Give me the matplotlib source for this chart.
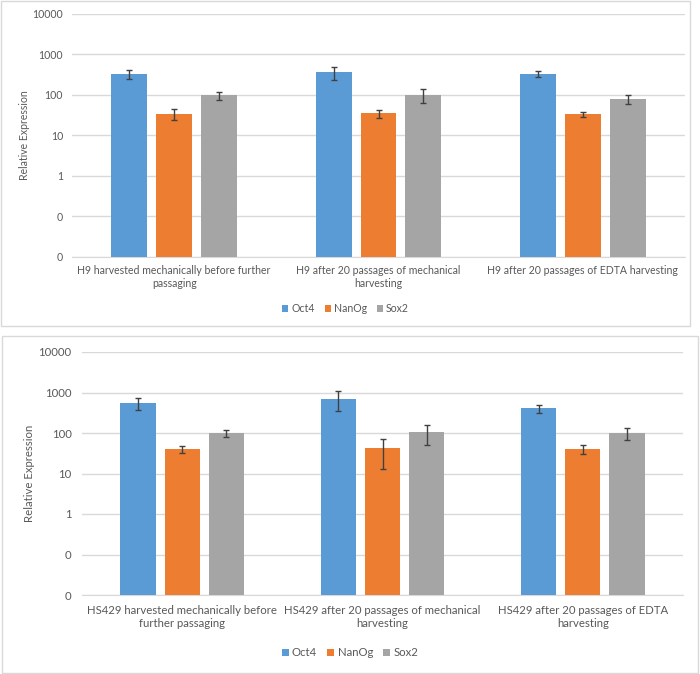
import textwrap
import numpy as np
import matplotlib
matplotlib.use("Agg")
import matplotlib.pyplot as plt
import matplotlib.patches as patches
from matplotlib.ticker import FuncFormatter, FixedLocator

# Data
genes = ["Oct4", "NanOg", "Sox2"]
colors = ["#5B9BD5", "#ED7D31", "#A5A5A5"]

h9_groups = ["H9 harvested mechanically before further passaging",
             "H9 after 20 passages of mechanical harvesting",
             "H9 after 20 passages of EDTA harvesting"]
h9_oct4 = [330, 370, 330]
h9_nanog = [34, 35, 33]
h9_sox2 = [98, 100, 78]
h9_oct4_err = [80, 130, 50]
h9_nanog_err = [10, 8, 5]
h9_sox2_err = [22, 37, 20]

hs_groups = ["HS429 harvested mechanically before further passaging",
             "HS429 after 20 passages of mechanical harvesting",
             "HS429 after 20 passages of EDTA harvesting"]
hs_oct4 = [550, 710, 410]
hs_nanog = [41, 43, 40]
hs_sox2 = [100, 105, 100]
hs_oct4_err = [180, 370, 90]
hs_nanog_err = [8, 30, 10]
hs_sox2_err = [22, 53, 33]

y_ticks = [0.01, 0.1, 1, 10, 100, 1000, 10000]

plt.rcParams['font.family'] = ['Lato', 'DejaVu Sans']
text_grey = "#595959"
grid_grey = "#D9D9D9"

W, H = 700, 674
fig = plt.figure(figsize=(W / 100, H / 100), dpi=100)


def px_box(x0, y0, x1, y1):
    # pixel box (top-left origin) -> figure fraction rect
    return [x0 / W, 1 - y1 / H, (x1 - x0) / W, (y1 - y0) / H]


def draw_panel(rect, border, groups, series, errs, fs, legend_y, ylabel_x, ypad, xpad):
    # panel frame
    bx0, by0, bx1, by1 = border
    fig.patches.append(patches.Rectangle((bx0 / W, 1 - by1 / H), (bx1 - bx0) / W, (by1 - by0) / H,
                                         transform=fig.transFigure, fill=False,
                                         edgecolor="#D9D9D9", linewidth=1))
    ax = fig.add_axes(px_box(*rect))
    ax.set_yscale('log')
    x = np.arange(len(groups))
    step = 0.22
    for i, (vals, err) in enumerate(zip(series, errs)):
        ax.bar(x + (i - 1) * step, vals, width=0.176, color=colors[i], label=genes[i],
               yerr=err, error_kw=dict(ecolor="#404040", elinewidth=1, capsize=2.5, capthick=1),
               zorder=3)
    ax.set_ylim(y_ticks[0], y_ticks[-1])
    ax.set_xlim(-0.5, len(groups) - 0.5)
    ax.yaxis.set_major_locator(FixedLocator(y_ticks))
    ax.yaxis.set_minor_locator(FixedLocator([]))
    ax.yaxis.set_major_formatter(FuncFormatter(lambda v, p: f"{v:.0f}"))
    ax.grid(axis='y', color=grid_grey, linewidth=1, zorder=0)
    ax.set_axisbelow(True)
    for s in ["top", "right", "left"]:
        ax.spines[s].set_visible(False)
    ax.spines["bottom"].set_color(grid_grey)
    ax.tick_params(axis='both', length=0, labelsize=fs, labelcolor=text_grey)
    ax.tick_params(axis='y', pad=ypad)
    ax.set_xticks(x)
    ax.set_xticklabels([textwrap.fill(g, 41) for g in groups], linespacing=1.2)
    ax.tick_params(axis='x', pad=xpad)
    ax.set_ylabel("Relative Expression", fontsize=fs, color=text_grey)
    ax.yaxis.set_label_coords((ylabel_x - rect[0]) / (rect[2] - rect[0]), 0.5)
    fig.legend(*ax.get_legend_handles_labels(), loc='center',
               bbox_to_anchor=(0.5 * (bx0 + bx1) / W, 1 - legend_y / H),
               ncol=3, frameon=False, fontsize=fs, labelcolor=text_grey,
               handlelength=0.6, handleheight=0.6, handletextpad=0.3, columnspacing=0.9)
    return ax


draw_panel((72, 14, 685, 256.7), (1, 1, 690, 326), h9_groups,
           [h9_oct4, h9_nanog, h9_sox2], [h9_oct4_err, h9_nanog_err, h9_sox2_err],
           7.6, 309, 30, 6.5, 6)
draw_panel((82, 352, 683, 595), (2, 336, 698, 673), hs_groups,
           [hs_oct4, hs_nanog, hs_sox2], [hs_oct4_err, hs_nanog_err, hs_sox2_err],
           8.2, 653, 35, 7.5, 7)

fig.savefig("out.png", dpi=100, facecolor="white")
